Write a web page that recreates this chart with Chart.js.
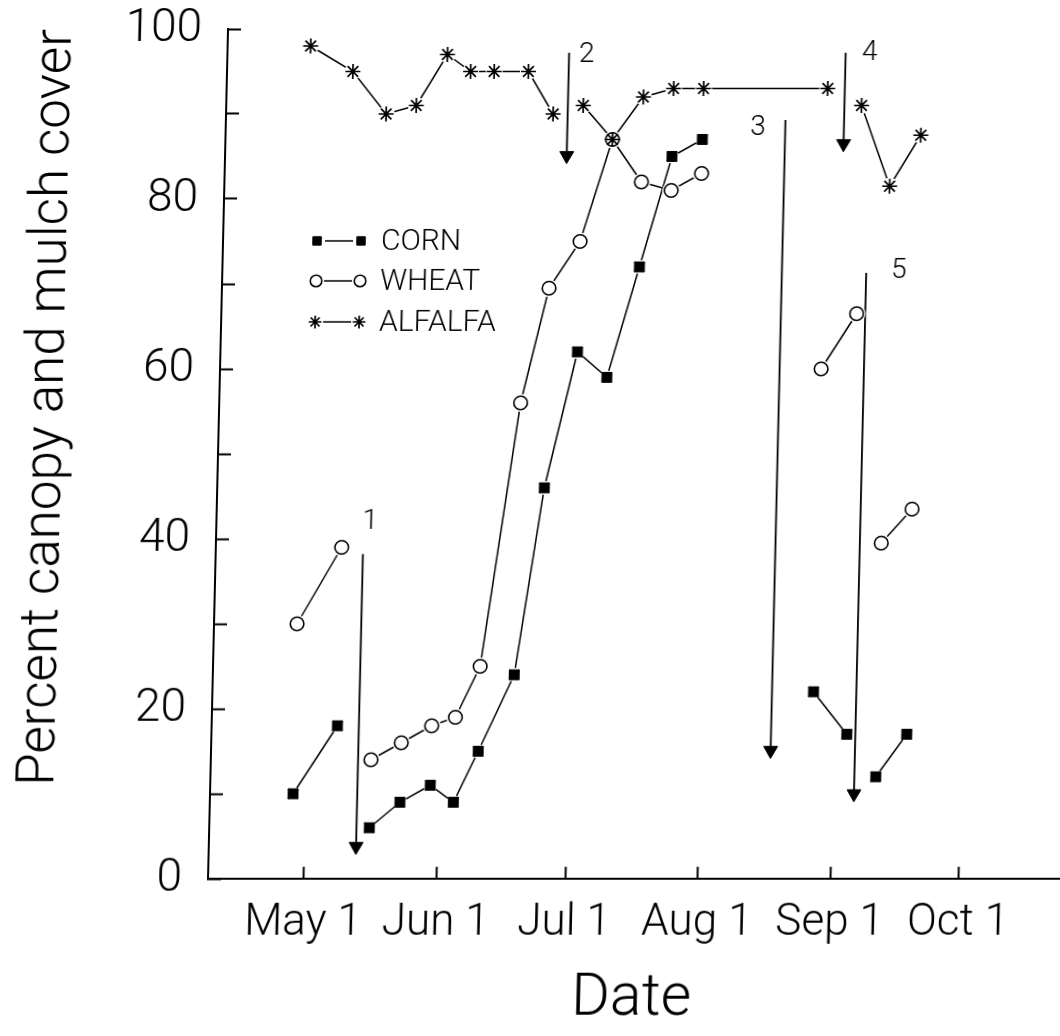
<!DOCTYPE html>
<html>
<head>
<meta charset="utf-8">
<title>Canopy and mulch cover</title>
<script src="https://cdn.jsdelivr.net/npm/chart.js@4.4.1/dist/chart.umd.min.js"></script>
<style>
  html, body { margin: 0; padding: 0; background: #fff; }
  /* slight shear, as on the scanned sheet */
  #coverChart { display: block; transform: skewX(-1.35deg); transform-origin: 0 879px; }
</style>
</head>
<body>
<canvas id="coverChart" width="1060" height="1036"></canvas>
<script>
// sampling dates (day of year)
const sampleDays   = [118, 128, 136, 143, 150, 155.5, 161, 169, 175, 182, 189, 196, 203, 210, 239, 247, 254, 261];
const cornCover    = [10, 18, 6, 9, 11, 9, 15, 24, 46, 62, 59, 72, 85, 87, 22, 17, 12, 17];
const wheatCover   = [30, 39, 14, 16, 18, 19, 25, 56, 69.5, 75, 87, 82, 81, 83, 60, 66.5, 39.5, 43.5];
const alfalfaCover = [98, 95, 90, 91, 97, 95, 95, 95, 90, 91, 87, 92, 93, 93, 93, 91, 81.5, 87.5];

// x axis ticks
const monthDays   = [121, 152, 182, 213, 244, 274];
const monthLabels = ["May 1", "Jun 1", "Jul 1", "Aug 1", "Sep 1", "Oct 1"];

// numbered events (vertical arrows)
const eventLabels = ["1", "2", "3", "4", "5"];
const eventDays   = [133, 178.4, 229.3, 243, 249];
const arrowTop    = [38.2, 97.2, 89.3, 97.2, 71.3];
const arrowHead   = [3.8, 85.1, 15.1, 86.5, 10.0];
const labelDays   = [134.5, 182.5, 222.9, 248.6, 256.6];
const labelLevels = [42, 96.9, 88.3, 97.2, 71.5];

// events that cut each crop's line
const rowCropCuts = [eventDays[0], eventDays[2], eventDays[4]];
const alfalfaCuts = [eventDays[1], eventDays[3]];

const FONT = "Roboto";
Chart.defaults.font.family = FONT;
Chart.defaults.font.weight = "300";
Chart.defaults.color = "#000";

function seriesPoints(values, cuts) {
  const pts = sampleDays.map((d, i) => ({ x: d, y: values[i] }));
  cuts.forEach(c => pts.push({ x: c, y: null }));
  return pts.sort((a, b) => a.x - b.x);
}

// =========================
// DATASETS
// =========================
const seriesSets = [
  {
    label: "CORN",
    data: seriesPoints(cornCover, rowCropCuts),
    pointStyle: "rect", pointRadius: 7, halo: 7,
    pointBackgroundColor: "#000", pointBorderColor: "#000", pointBorderWidth: 1
  },
  {
    label: "WHEAT",
    data: seriesPoints(wheatCover, rowCropCuts),
    pointStyle: "circle", pointRadius: 6.8, halo: 9,
    pointBackgroundColor: "#fff", pointBorderColor: "#000", pointBorderWidth: 1.6
  },
  {
    label: "ALFALFA",
    data: seriesPoints(alfalfaCover, alfalfaCuts),
    pointStyle: "star", pointRadius: 7.5, halo: 8.5,
    pointBackgroundColor: "#000", pointBorderColor: "#000", pointBorderWidth: 1.7
  }
].map(ds => Object.assign(ds, { borderColor: "#000", borderWidth: 1.5, tension: 0, spanGaps: false }));

const arrowSets = eventDays.map((d, i) => ({
  label: "event " + eventLabels[i],
  data: [{ x: d, y: arrowTop[i] }, { x: d, y: arrowHead[i] }],
  borderColor: "#000",
  borderWidth: 1.8,
  pointRadius: [0, 8],
  pointStyle: "triangle",
  pointRotation: 180,
  pointBackgroundColor: "#000",
  pointBorderColor: "#000",
  pointBorderWidth: 1
}));

// =========================
// PLUGINS
// =========================
// white gap around each marker, then the marker again on top
const pointHalos = {
  id: "pointHalos",
  afterDatasetsDraw(chart) {
    const ctx = chart.ctx;
    const metas = chart.getSortedVisibleDatasetMetas().filter(m => chart.data.datasets[m.index].halo);
    ctx.save();
    ctx.fillStyle = "#fff";
    metas.forEach(m => {
      const r = chart.data.datasets[m.index].halo;
      m.data.forEach(pt => {
        if (pt.skip) return;
        ctx.beginPath();
        ctx.arc(pt.x, pt.y, r, 0, Math.PI * 2);
        ctx.fill();
      });
    });
    ctx.restore();
    metas.forEach(m => m.data.forEach(pt => { if (!pt.skip) pt.draw(ctx, chart.chartArea); }));
  }
};

// numbers beside the arrows
const eventNumbers = {
  id: "eventNumbers",
  afterDatasetsDraw(chart) {
    const { ctx, scales: { x, y } } = chart;
    ctx.save();
    ctx.fillStyle = "#000";
    ctx.font = "300 28px " + FONT;
    ctx.textAlign = "center";
    ctx.textBaseline = "middle";
    eventLabels.forEach((t, i) => {
      ctx.fillText(t, x.getPixelForValue(labelDays[i]), y.getPixelForValue(labelLevels[i]));
    });
    ctx.restore();
  }
};

// key: marker - line - marker, then the name
const cropKey = {
  id: "cropKey",
  afterDraw(chart) {
    const { ctx, chartArea } = chart;
    const rows = [212, 252, 293];
    const m1 = chartArea.left + 94, m2 = chartArea.left + 138, tx = chartArea.left + 158;
    ctx.save();
    seriesSets.forEach((ds, i) => {
      const yy = chartArea.top + rows[i];
      ctx.strokeStyle = "#000";
      ctx.lineWidth = 1.5;
      ctx.beginPath();
      ctx.moveTo(m1 + 8, yy);
      ctx.lineTo(m2 - 8, yy);
      ctx.stroke();
      [m1, m2].forEach(px => {
        const el = new Chart.PointElement({});
        el.x = px;
        el.y = yy;
        el.options = {
          radius: ds.pointRadius * 0.85,
          pointStyle: ds.pointStyle,
          rotation: 0,
          borderWidth: ds.pointBorderWidth,
          borderColor: ds.pointBorderColor,
          backgroundColor: ds.pointBackgroundColor
        };
        el.draw(ctx, chartArea);
      });
      ctx.fillStyle = "#000";
      ctx.font = "300 30px " + FONT;
      ctx.textAlign = "left";
      ctx.textBaseline = "middle";
      ctx.fillText(ds.label, tx, yy + 1);
    });
    ctx.restore();
  }
};

// =========================
// CHART
// =========================
const ctx = document.getElementById("coverChart");

const coverChart = new Chart(ctx, {
  type: "line",
  data: { datasets: [...arrowSets, ...seriesSets] },
  options: {
    responsive: false,
    animation: false,
    events: [],
    layout: { autoPadding: false, padding: { top: 29, right: 0, bottom: 0, left: 0 } },
    plugins: { legend: { display: false }, tooltip: { enabled: false } },
    scales: {
      x: {
        type: "linear",
        min: 98.6,
        max: 297.6,
        afterBuildTicks: s => { s.ticks = monthDays.map(v => ({ value: v })); },
        afterFit: s => { s.height = 157; s.paddingLeft = 0; s.paddingRight = 0; },
        grid: { drawOnChartArea: false, tickLength: -12, tickWidth: 2, tickColor: "#000" },
        border: { color: "#000", width: 2 },
        ticks: {
          autoSkip: false,
          maxRotation: 0,
          padding: 31,
          font: { size: 44, weight: "300" },
          callback: v => monthLabels[monthDays.indexOf(v)]
        },
        title: {
          display: true,
          text: "Date",
          font: { size: 59, weight: "300" },
          padding: { top: 0, bottom: 0 }
        }
      },
      y: {
        min: 0,
        max: 100,
        // label padding must not push the plot area down
        afterFit: s => { s.width = 208; s.paddingTop = 0; s.paddingBottom = 0; },
        grid: { drawOnChartArea: false, tickLength: -13, tickWidth: 2, tickColor: "#000" },
        border: { color: "#000", width: 2 },
        ticks: {
          stepSize: 10,
          padding: 39,
          font: { size: 46, weight: "300" },
          callback: v => (v % 20 === 0 ? v : "")
        },
        title: {
          display: true,
          text: "Percent canopy and mulch cover",
          align: "end",
          font: { size: 53, weight: "300" },
          padding: { top: 6, bottom: 0 }
        }
      }
    }
  },
  plugins: [pointHalos, eventNumbers, cropKey]
});
</script>
</body>
</html>
